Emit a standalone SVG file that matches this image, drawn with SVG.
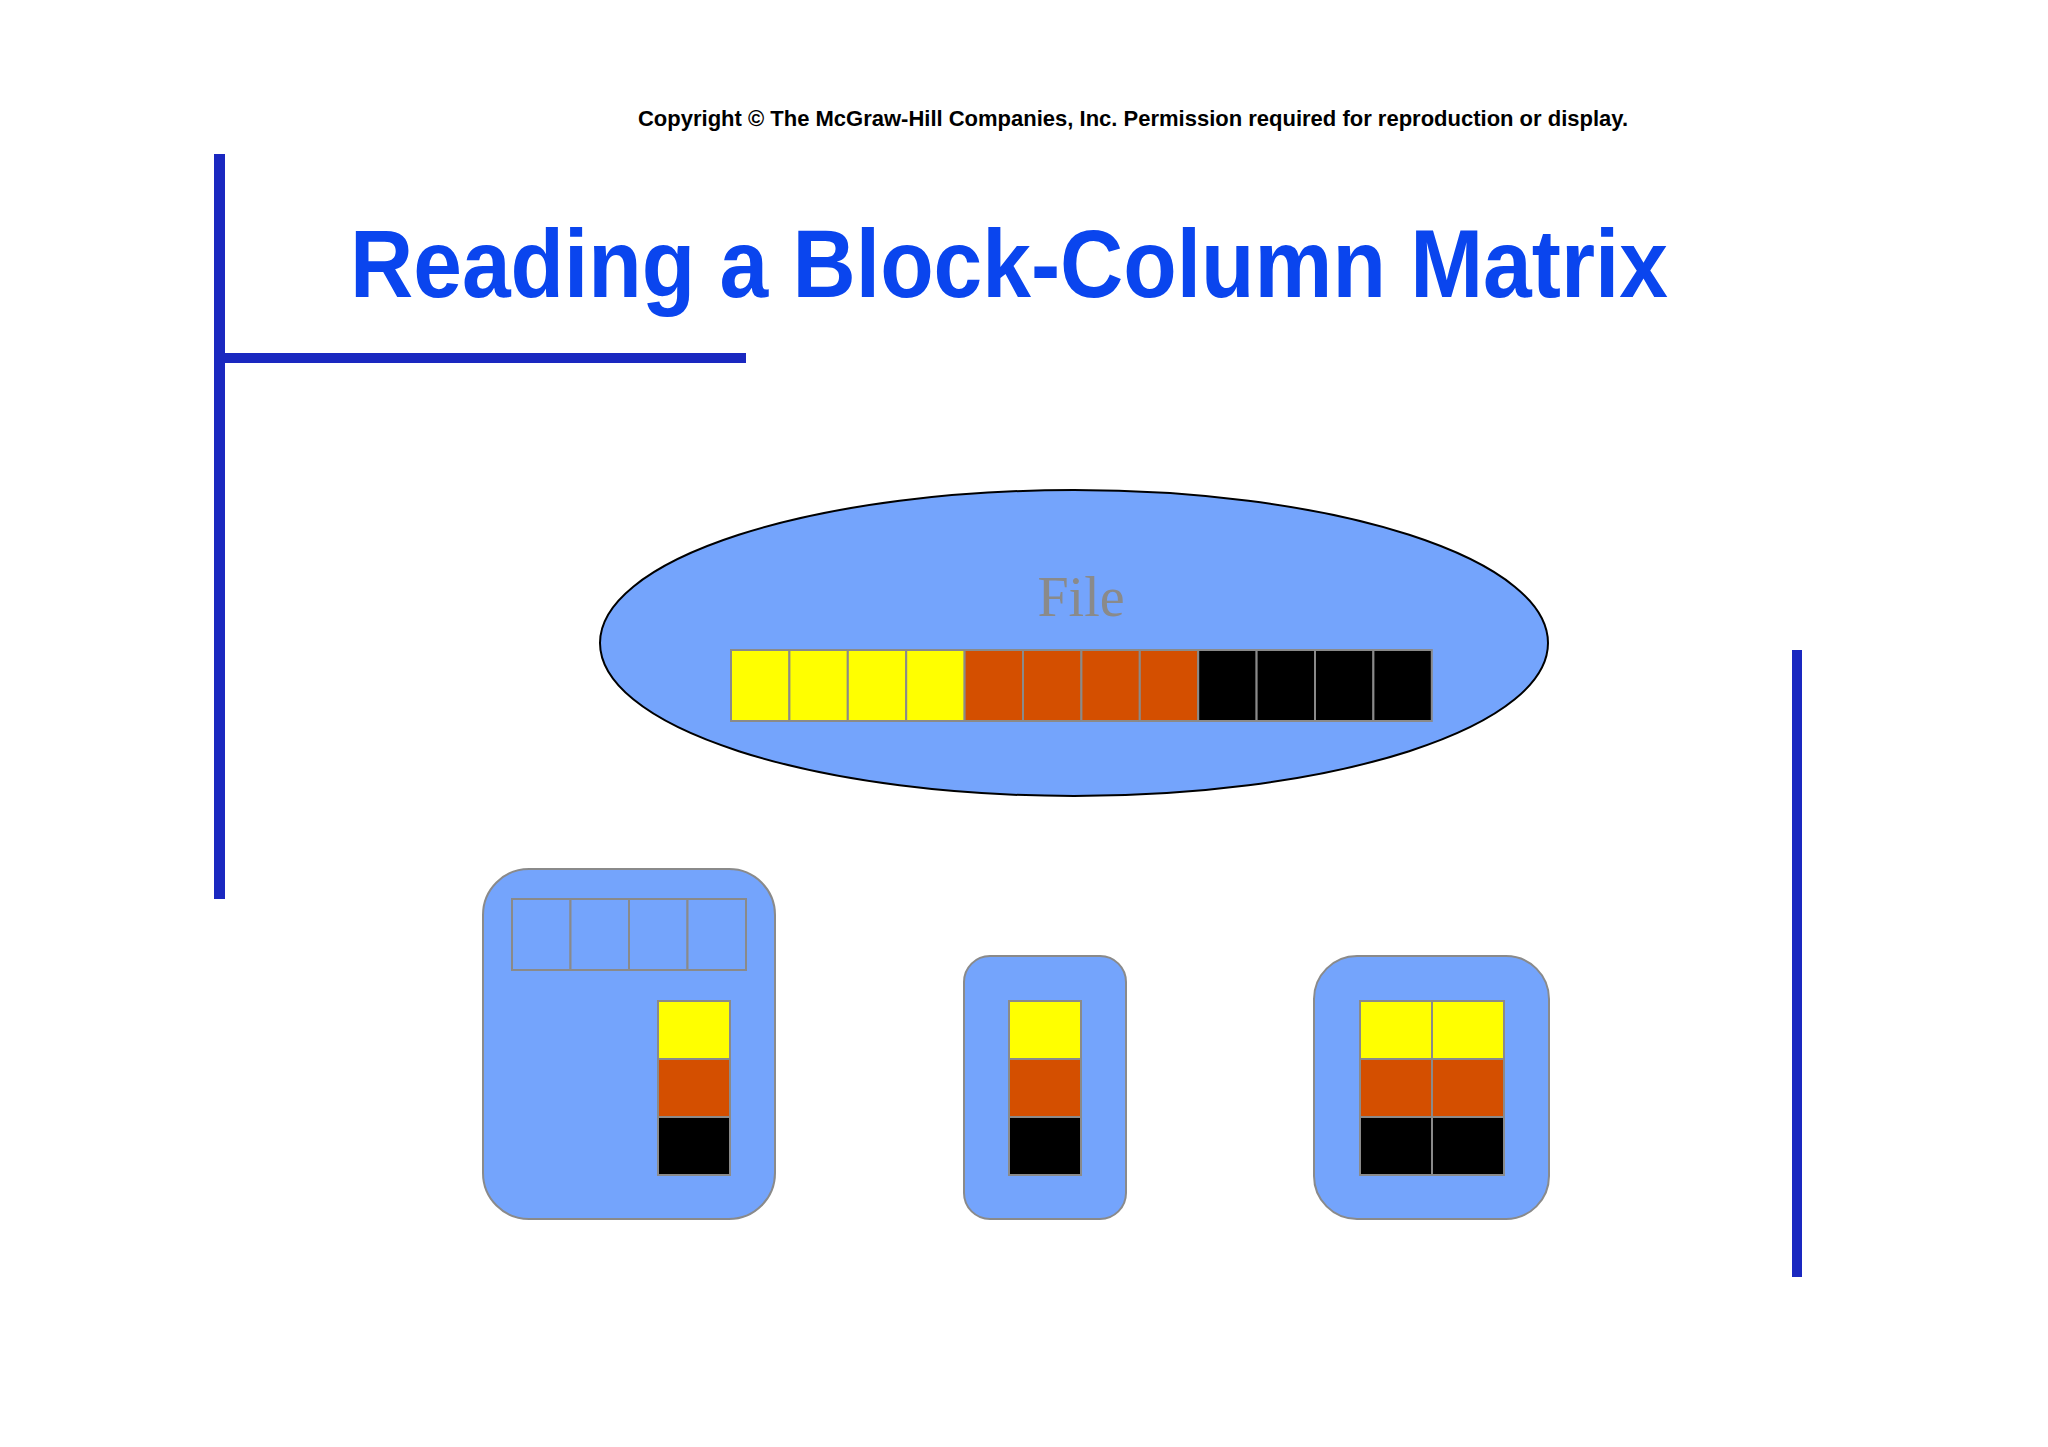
<svg xmlns="http://www.w3.org/2000/svg" width="2048" height="1447" viewBox="0 0 2048 1447">
<style>
.c{stroke:#8a8a8a;stroke-width:2}
.y{fill:#ffff00}.o{fill:#d44f00}.k{fill:#000}.b{fill:#74a4fc}
.bar{fill:#1a28c0}
.box{fill:#74a4fc;stroke:#8a8a8a;stroke-width:2}
</style>
<rect width="2048" height="1447" fill="#fff"/>
<text x="1133" y="126" font-family="Liberation Sans, Arial, sans-serif" font-weight="bold" font-size="22" text-anchor="middle">Copyright © The McGraw-Hill Companies, Inc. Permission required for reproduction or display.</text>
<text x="350" y="297" textLength="1318" lengthAdjust="spacingAndGlyphs" font-family="Liberation Sans, Arial, sans-serif" font-weight="bold" font-size="97" fill="#0a45ee">Reading a Block-Column Matrix</text>
<rect class="bar" x="214" y="154" width="11" height="745"/>
<rect class="bar" x="214" y="353" width="532" height="10"/>
<rect class="bar" x="1792" y="650" width="10" height="627"/>
<g id="file">
<ellipse cx="1074" cy="643" rx="474" ry="153" fill="#74a4fc" stroke="#000" stroke-width="2"/>
<text x="1081" y="616" font-family="Liberation Serif, serif" font-size="56" fill="#8a8a8a" text-anchor="middle">File</text>
<g class="c">
<rect class="y" x="731" y="650" width="58.4" height="71"/><rect class="y" x="789.4" y="650" width="58.4" height="71"/><rect class="y" x="847.8" y="650" width="58.4" height="71"/><rect class="y" x="906.2" y="650" width="58.4" height="71"/>
<rect class="o" x="964.6" y="650" width="58.4" height="71"/><rect class="o" x="1023" y="650" width="58.4" height="71"/><rect class="o" x="1081.4" y="650" width="58.4" height="71"/><rect class="o" x="1139.8" y="650" width="58.4" height="71"/>
<rect class="k" x="1198.2" y="650" width="58.4" height="71"/><rect class="k" x="1256.6" y="650" width="58.4" height="71"/><rect class="k" x="1315" y="650" width="58.4" height="71"/><rect class="k" x="1373.4" y="650" width="58.4" height="71"/>
</g>
</g>
<g id="box1">
<rect class="box" x="483" y="869" width="292" height="350" rx="46"/>
<g class="c">
<rect class="b" x="512" y="899" width="58.5" height="71"/><rect class="b" x="570.5" y="899" width="58.5" height="71"/><rect class="b" x="629" y="899" width="58.5" height="71"/><rect class="b" x="687.5" y="899" width="58.5" height="71"/>
<rect class="y" x="658" y="1001" width="72" height="58"/><rect class="o" x="658" y="1059" width="72" height="58"/><rect class="k" x="658" y="1117" width="72" height="58"/>
</g>
</g>
<g id="box2">
<rect class="box" x="964" y="956" width="162" height="263" rx="26"/>
<g class="c">
<rect class="y" x="1009" y="1001" width="72" height="58"/><rect class="o" x="1009" y="1059" width="72" height="58"/><rect class="k" x="1009" y="1117" width="72" height="58"/>
</g>
</g>
<g id="box3">
<rect class="box" x="1314" y="956" width="235" height="263" rx="43"/>
<g class="c">
<rect class="y" x="1360" y="1001" width="72" height="58"/><rect class="o" x="1360" y="1059" width="72" height="58"/><rect class="k" x="1360" y="1117" width="72" height="58"/>
<rect class="y" x="1432" y="1001" width="72" height="58"/><rect class="o" x="1432" y="1059" width="72" height="58"/><rect class="k" x="1432" y="1117" width="72" height="58"/>
</g>
</g>
<g id="connectors"/>
</svg>
